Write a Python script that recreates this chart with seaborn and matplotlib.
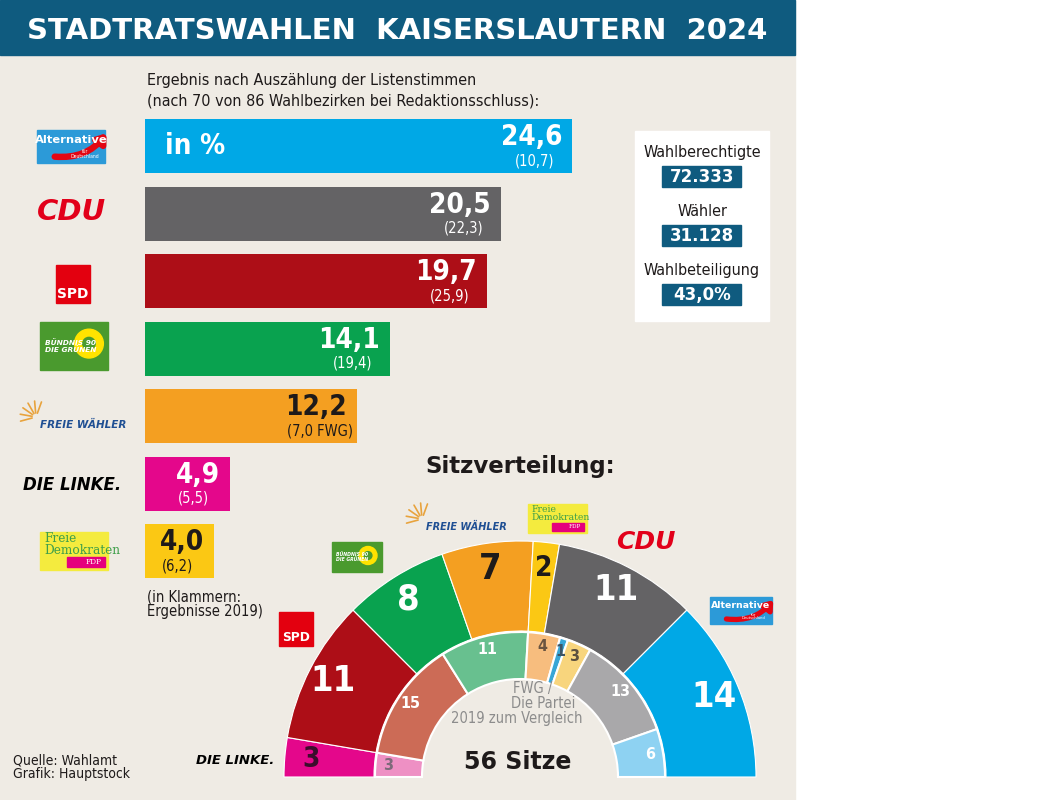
import numpy as np
import pandas as pd
import matplotlib
matplotlib.use("Agg")
import matplotlib.pyplot as plt
from matplotlib.patches import Rectangle, Circle
import seaborn as sns

# Listenstimmen in Prozent (2019 in Klammern)
parteien = ["AfD", "CDU", "SPD", "Grüne", "Freie Wähler", "Die Linke", "FDP"]
prozent_2024 = [24.6, 20.5, 19.7, 14.1, 12.2, 4.9, 4.0]
prozent_2019 = [10.7, 22.3, 25.9, 19.4, 7.0, 5.5, 6.2]
zusatz_2019 = ["", "", "", "", " FWG", "", ""]
balken_farben = ["#00a8e6", "#646365", "#ad0e17", "#09a24f", "#f49f21", "#e4078b", "#fbc814"]
text_farben = ["white", "white", "white", "white", "#1e1a1a", "white", "#1e1a1a"]

# Sitzverteilung 2024 (außen) und 2019 (innen), von links nach rechts
sitz_parteien = ["Die Linke", "SPD", "Grüne", "Freie Wähler", "FDP", "CDU", "AfD"]
sitze_2024 = [3, 11, 8, 7, 2, 11, 14]
sitz_farben = ["#e4078b", "#ad0e17", "#09a24f", "#f49f21", "#fbc814", "#646365", "#00a8e6"]
sitz_text = ["#3b0d2c", "white", "white", "#1e1a1a", "#1e1a1a", "white", "white"]

parteien_2019 = ["Die Linke", "SPD", "Grüne", "FWG", "Die Partei", "FDP", "CDU", "AfD"]
sitze_2019 = [3, 15, 11, 4, 1, 3, 13, 6]
farben_2019 = ["#ee90c4", "#cc6b56", "#68c08f", "#f7bd7e", "#38a6d6", "#f8d57d", "#a9a8aa", "#8ed2f2"]
text_2019 = ["#7d6a7a", "white", "white", "#6a5440", "#3d5566", "#5c5040", "white", "white"]

info_titel = ["Wahlberechtigte", "Wähler", "Wahlbeteiligung"]
info_werte = ["72.333", "31.128", "43,0%"]

BEIGE = "#efebe4"
BLAU = "#0f5b7f"
DUNKEL = "#1e1a1a"
COND = dict(family="DejaVu Sans", stretch="condensed")

sns.set_theme(style="white")
plt.rcParams["font.family"] = ["DejaVu Sans"]

W, H = 1051, 800
fig = plt.figure(figsize=(W / 100, H / 100), dpi=100)
fig.patch.set_facecolor("white")


def px_axes(x0, y0, x1, y1, z):
    ax = fig.add_axes([x0 / W, 1 - y1 / H, (x1 - x0) / W, (y1 - y0) / H], zorder=z)
    ax.set_facecolor("none")
    return ax


def zahl(v):
    return f"{v:.1f}".replace(".", ",")


# Hintergrund
bg = px_axes(0, 0, W, H, 0)
bg.set_xlim(0, W)
bg.set_ylim(H, 0)
bg.axis("off")
bg.add_patch(Rectangle((0, 0), 795, 800, color=BEIGE))
bg.add_patch(Rectangle((0, 0), 795, 55, color=BLAU))

# Balken
PX = 17.36  # Pixel pro Prozentpunkt
bx = px_axes(145, 112.25, 145 + 30 * PX, 584.75, 1)
df = pd.DataFrame({"Partei": parteien, "Prozent": prozent_2024})
sns.barplot(data=df, x="Prozent", y="Partei", hue="Partei", palette=balken_farben,
            saturation=1, width=0.8, legend=False, linewidth=0, ax=bx)
bx.set_xlim(0, 30)
bx.set_ylim(6.5, -0.5)
bx.axis("off")

for i, (v, alt, z, c) in enumerate(zip(prozent_2024, prozent_2019, zusatz_2019, text_farben)):
    rechts = v - 10 / PX
    bx.text(rechts, i - 0.13, zahl(v), ha="right", va="center", color=c,
            fontsize=20, fontweight="bold", **COND)
    bx.text(rechts - 27 / PX, i + 0.22, "(" + zahl(alt) + z + ")", ha="center", va="center",
            color=c, fontsize=10.5, **COND)
bx.text(20 / PX, 0, "in %", ha="left", va="center", color="white", fontsize=20, fontweight="bold", **COND)

# Halbkreis
R_AUSSEN, R_MITTE, R_INNEN = 236, 146, 98
CX, CY = 520, 777
px_ = px_axes(CX - 240, CY - 240, CX + 240, CY, 1)
gesamt = sum(sitze_2024)
w1, _ = px_.pie(sitze_2024 + [gesamt], colors=sitz_farben + ["none"], radius=R_AUSSEN,
                startangle=180, counterclock=False,
                wedgeprops=dict(width=R_AUSSEN - R_MITTE, edgecolor="white", linewidth=0.8))
w1[-1].set_visible(False)
w2, _ = px_.pie(sitze_2019 + [gesamt], colors=farben_2019 + ["none"], radius=R_MITTE - 1,
                startangle=180, counterclock=False,
                wedgeprops=dict(width=R_MITTE - 1 - R_INNEN, edgecolor="white", linewidth=1.5))
w2[-1].set_visible(False)
px_.set_xlim(-240, 240)
px_.set_ylim(0, 240)
px_.axis("off")

kum = np.cumsum(sitze_2024) - np.array(sitze_2024) / 2
for s, k, c in zip(sitze_2024, kum, sitz_text):
    a = np.radians(180 - k / gesamt * 180)
    gr = 20 if s <= 3 else 26
    px_.text(210 * np.cos(a), 210 * np.sin(a), str(s), ha="center", va="center", color=c,
             fontsize=gr, fontweight="bold", **COND)
kum = np.cumsum(sitze_2019) - np.array(sitze_2019) / 2
for s, k, c in zip(sitze_2019, kum, text_2019):
    a = np.radians(180 - k / gesamt * 180)
    px_.text(132 * np.cos(a), 132 * np.sin(a), str(s), ha="center", va="center", color=c,
             fontsize=11.5, fontweight="bold", **COND)

# Texte und Logos
tx = px_axes(0, 0, W, H, 5)
tx.set_xlim(0, W)
tx.set_ylim(H, 0)
tx.axis("off")

tx.text(397, 31, "STADTRATSWAHLEN  KAISERSLAUTERN  2024", ha="center", va="center",
        color="white", fontsize=21, fontweight="bold")
tx.text(147, 80, "Ergebnis nach Auszählung der Listenstimmen", ha="left", va="center",
        color=DUNKEL, fontsize=11.5, **COND)
tx.text(147, 101, "(nach 70 von 86 Wahlbezirken bei Redaktionsschluss):", ha="left", va="center",
        color=DUNKEL, fontsize=11.5, **COND)
tx.text(147, 604, "(in Klammern:\nErgebnisse 2019)", ha="left", va="center", color=DUNKEL,
        fontsize=10.5, linespacing=1.0, **COND)
tx.text(13, 767, "Quelle: Wahlamt\nGrafik: Hauptstock", ha="left", va="center", color=DUNKEL,
        fontsize=10, linespacing=1.0, **COND)
tx.text(425, 467, "Sitzverteilung:", ha="left", va="center", color=DUNKEL, fontsize=16.5, fontweight="bold")
tx.text(518, 762, "56 Sitze", ha="center", va="center", color=DUNKEL, fontsize=17, fontweight="bold")
tx.text(533, 688, "FWG /", ha="center", va="center", color="#8c8c8c", fontsize=10.5, **COND)
tx.text(543, 703, "Die Partei", ha="center", va="center", color="#8c8c8c", fontsize=10.5, **COND)
tx.text(517, 718, "2019 zum Vergleich", ha="center", va="center", color="#8c8c8c", fontsize=10.5, **COND)

# Infokasten
tx.add_patch(Rectangle((635, 131), 134, 190, color="white"))
for j, (t, w) in enumerate(zip(info_titel, info_werte)):
    y = 152 + j * 59
    tx.text(702, y, t, ha="center", va="center", color=DUNKEL, fontsize=11.5, **COND)
    tx.add_patch(Rectangle((662, y + 14), 79, 21, color=BLAU))
    tx.text(702, y + 25, w, ha="center", va="center", color="white", fontsize=12, fontweight="bold")


def afd_logo(x0, y0, w, h):
    tx.add_patch(Rectangle((x0, y0), w, h, color="#2c9ad8"))
    tx.annotate("", xy=(x0 + w + 3, y0 + 1), xytext=(x0 + 0.22 * w, y0 + h * 0.8),
                arrowprops=dict(arrowstyle="-|>,head_width=0.3,head_length=0.4", color="#e30613",
                                lw=h * 0.14, connectionstyle="arc3,rad=0.3"))
    tx.text(x0 + w / 2, y0 + h * 0.3, "Alternative", color="white", fontsize=h * 0.25,
            fontweight="bold", ha="center", va="center")
    tx.text(x0 + w * 0.7, y0 + h * 0.72, "für\nDeutschland", color="white", fontsize=h * 0.1,
            ha="center", va="center", linespacing=0.9)


def spd_logo(x0, y0, w, h):
    tx.add_patch(Rectangle((x0, y0), w, h, color="#e3000f"))
    tx.text(x0 + w / 2, y0 + h * 0.75, "SPD", color="white", fontsize=h * 0.26,
            fontweight="bold", ha="center", va="center")


def gruene_logo(x0, y0, w, h):
    tx.add_patch(Rectangle((x0, y0), w, h, color="#4a9a2e"))
    tx.add_patch(Circle((x0 + w * 0.72, y0 + h * 0.45), h * 0.3, color="#ffe300"))
    tx.add_patch(Circle((x0 + w * 0.72, y0 + h * 0.45), h * 0.13, color="#4a9a2e"))
    tx.text(x0 + w * 0.08, y0 + h * 0.5, "BÜNDNIS 90\nDIE GRÜNEN", color="white", fontsize=h * 0.11,
            fontweight="bold", style="italic", ha="left", va="center", linespacing=1.0)


def fdp_logo(x0, y0, w, h):
    tx.add_patch(Rectangle((x0, y0), w, h, color="#f4eb3e"))
    tx.add_patch(Rectangle((x0 + w * 0.4, y0 + h * 0.66), w * 0.55, h * 0.26, color="#e5007d"))
    tx.text(x0 + w * 0.06, y0 + h * 0.33, "Freie\nDemokraten", color="#3f9f4a", fontsize=h * 0.23,
            family="DejaVu Serif", ha="left", va="center", linespacing=0.9)
    tx.text(x0 + w * 0.9, y0 + h * 0.79, "FDP", color="white", fontsize=h * 0.14,
            family="DejaVu Serif", ha="right", va="center")


def fw_logo(x, y, gr):
    tx.text(x, y, "FREIE WÄHLER", color="#1f4f93", fontsize=gr, fontweight="bold", style="italic",
            ha="left", va="center")
    sx, sy = x - 4, y - 8
    for ang in [120, 145, 170, 195, 70, 95]:
        a = np.radians(ang)
        tx.plot([sx + 4 * np.cos(a), sx + 16 * np.cos(a)], [sy - 4 * np.sin(a), sy - 16 * np.sin(a)],
                color="#e8a33d", lw=1.2, solid_capstyle="round")


def cdu_logo(x, y, gr):
    tx.text(x, y, "CDU", color="#e2001a", fontsize=gr, fontweight="heavy", style="italic",
            ha="center", va="center")


def linke_logo(x, y, gr):
    tx.text(x, y, "DIE LINKE.", color="black", fontsize=gr, fontweight="heavy", style="italic",
            ha="center", va="center")


afd_logo(37, 130, 68, 33)
cdu_logo(72, 212, 21)
spd_logo(56, 265, 34, 38)
gruene_logo(40, 322, 68, 48)
fw_logo(40, 425, 7.5)
linke_logo(72, 485, 12)
fdp_logo(40, 532, 68, 38)

gruene_logo(332, 542, 50, 30)
fw_logo(426, 527, 7)
fdp_logo(528, 504, 59, 29)
cdu_logo(646, 542, 18)
afd_logo(710, 597, 62, 27)
spd_logo(279, 612, 34, 34)
linke_logo(235, 760, 9.5)

fig.savefig("out.png", dpi=100, facecolor=fig.get_facecolor())
